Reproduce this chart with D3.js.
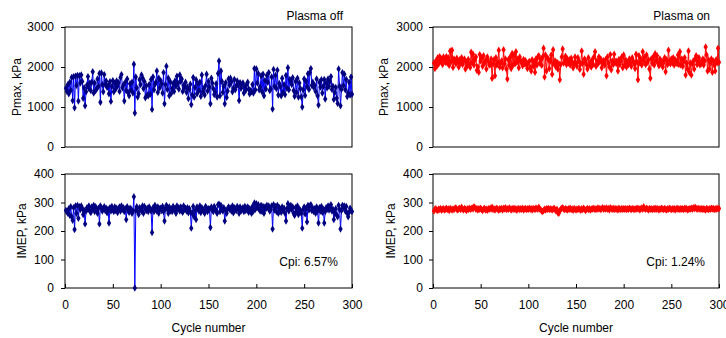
<!DOCTYPE html>
<html>
<head>
  <style>
    body, html { margin: 0; padding: 0; background: #fff; }
    svg { display: block; font-family: "Liberation Sans", Arial, sans-serif; }
  </style>
</head>
<body>
  <svg id="svg" width="726" height="338"></svg>
  <script src="https://d3js.org/d3.v7.min.js"></script>
  <script>
    const cycles = d3.range(1, 301)
    const xTicks = [0, 50, 100, 150, 200, 250, 300]
    const pmaxTicks = [0, 1000, 2000, 3000]
    const imepTicks = [0, 100, 200, 300, 400]
    const titles = ["Plasma off", "Plasma on"]
    const cpiLabels = ["Cpi: 6.57%", "Cpi: 1.24%"]

    const pmaxOff = [
      1470,1390,1560,1330,1620,1420,1740,1160,1760,980,
      1770,1540,1790,1150,1780,1600,1800,1640,1220,1480,
      1030,1380,1550,1760,1470,1600,1410,1620,1880,1350,
      1600,1410,1450,1700,1520,1840,1120,1850,1560,1380,
      1810,1560,1650,1490,1540,1330,1630,1140,1510,1660,
      1380,1590,1450,1650,1530,1610,1390,1740,1810,1480,
      1550,1150,1620,1410,1700,1360,1280,1580,1420,1620,
      1350,2070,850,1750,1480,1250,1330,1680,1560,1800,
      1730,1460,1640,1230,1530,1300,1280,1560,1320,1690,
      940,1750,1430,1560,1620,1900,1370,1720,1480,1660,
      1580,1350,1860,1080,1560,2020,1440,1720,1280,1630,
      1340,1460,1580,1390,1650,1520,1770,1600,1450,1800,
      1640,1700,1390,1540,1480,1620,1370,1500,1210,1450,
      1570,1060,1300,1740,1250,1490,1680,1330,1590,1410,
      1620,1270,1800,1380,1460,1300,1540,1820,1400,1640,
      1500,1080,1720,1600,1460,1310,1370,1580,1250,1840,
      2150,1280,1900,1640,1370,1520,1080,1610,1240,1400,
      1700,1550,1720,1630,1380,1470,1690,1430,1530,1650,
      1540,1160,1610,1470,1560,1600,1350,1500,1420,1570,
      1620,1450,1330,1410,1380,1560,1350,1960,1430,1950,
      1600,1840,1430,1500,1780,1380,1820,1280,1660,1450,
      1790,1620,1860,1410,1450,1750,950,1940,1520,1790,
      1460,1920,1300,1590,1510,1280,1720,1370,1560,1310,
      1790,1470,1980,1430,1690,1650,1560,1730,1410,1270,
      1640,1370,1720,1250,1600,1460,1250,1000,1430,1700,
      1290,1640,1510,1830,1440,1860,1960,1540,1620,1490,
      1540,1390,1700,1280,1050,1620,1500,1680,1350,1520,
      1690,1200,1600,1480,1700,1520,1640,1760,1440,1520,
      1190,1360,1490,1220,1090,1950,1520,1030,1440,1860,
      1540,1820,1430,1690,1260,1350,1620,1300,1750,1320
    ]

    const imepOff = [
      272,268,262,278,255,285,250,238,282,205,
      288,262,290,245,285,275,288,280,258,272,
      225,270,282,276,288,270,265,284,278,290,
      268,285,275,262,280,225,288,282,270,278,
      285,272,280,264,276,228,282,270,286,275,
      268,284,272,280,265,278,284,270,288,276,
      282,268,278,240,285,272,266,280,276,262,
      270,320,0,272,285,268,258,282,276,270,
      288,262,286,278,272,280,268,284,276,270,
      195,282,268,290,275,270,284,262,278,280,
      272,286,268,235,280,290,276,262,284,270,
      278,268,286,274,280,262,288,276,282,270,
      284,272,266,288,276,280,270,282,264,278,
      268,210,262,286,250,272,240,284,278,270,
      288,265,282,276,270,262,286,280,268,278,
      276,212,284,274,268,286,278,270,262,292,
      294,268,290,276,270,282,235,272,262,278,
      284,276,280,270,288,264,282,276,272,286,
      278,262,284,270,276,282,268,286,272,280,
      284,266,278,272,262,286,270,298,276,296,
      282,292,276,270,290,268,286,262,284,278,
      290,282,288,270,276,288,207,292,274,286,
      268,290,262,282,276,266,284,272,280,262,
      235,278,296,270,284,290,276,284,262,255,
      282,268,288,258,276,272,262,210,276,284,
      260,280,232,290,274,288,292,272,280,268,
      278,262,284,270,228,282,270,286,266,276,
      228,268,282,276,288,274,286,292,270,276,
      240,262,278,256,250,290,276,207,272,290,
      284,288,270,286,262,250,266,280,272,268
    ]

    const pmaxOn = [
      2100,1960,2150,2020,2230,2080,2260,2150,2200,2060,
      2250,2180,2120,2260,2100,2230,2040,2400,2130,2420,
      1990,2200,2150,2080,2220,2130,2000,2180,2100,2230,
      2060,2150,2200,1950,2120,2030,2190,2070,1990,2370,
      2100,2320,2050,2180,2250,1920,2000,1870,2310,2150,
      2230,2020,2280,2100,2160,1950,2250,2140,2050,2060,
      2200,1720,2080,2180,1780,2230,2050,2120,2420,2000,
      2100,2150,1980,2430,2080,2200,1950,1700,2180,2050,
      2250,1960,2340,2050,2300,2080,2380,2120,2200,1980,
      2250,2150,2100,2030,2190,2080,2160,2050,1960,2100,
      2140,1980,1900,2180,2020,2120,1870,2200,2050,2250,
      2280,2100,2180,2040,2250,2470,1750,2300,1900,2220,
      2200,1960,2150,2300,1820,2430,2080,2150,2000,2120,
      1950,2080,1680,2060,2250,2450,2100,2150,2270,2060,
      2200,2100,2180,2050,2220,2130,1980,2080,2250,2100,
      2020,2230,2150,1940,2080,2400,2100,1820,2200,2150,
      2060,1950,2230,2050,2120,2000,2180,2070,2260,2380,
      2020,2150,2080,2250,2130,2200,1980,2100,2160,2050,
      2180,1780,2250,2100,2000,2310,1930,2150,2060,2320,
      2100,2150,2080,1900,2190,2060,2150,2250,1980,2300,
      2050,2180,2000,2120,2060,2200,2100,2020,2230,2150,
      2080,1960,2320,2120,1680,2280,2100,2200,2050,2380,
      2150,2250,2060,2300,2120,2180,1950,1720,2200,2100,
      2250,2050,2330,2150,2280,2100,2030,2200,2080,2150,
      2000,2120,2230,1880,2180,2060,2420,2150,2080,2200,
      2100,2230,2050,2180,2150,2080,2300,2060,2380,2050,
      2200,2020,2150,2230,1800,2100,1950,2400,1860,2100,
      1800,2080,2150,1950,2200,2280,2060,2150,2230,2050,
      2120,2080,2200,2050,2150,2500,2300,1900,2180,1950,
      2100,2200,1870,2150,2050,1900,2180,2100,2470,2120
    ]

    const imepOn = [
      270,276,278,274,272,277,275,279,273,276,
      278,274,276,280,275,277,272,279,276,274,
      277,275,279,282,276,274,278,280,275,283,
      277,274,279,276,272,278,275,280,276,278,
      281,277,285,282,276,279,274,278,276,280,
      275,272,277,279,274,276,273,278,276,280,
      277,283,275,278,274,277,280,276,273,278,
      276,279,274,280,277,282,275,278,276,281,
      277,274,279,276,280,275,278,273,277,279,
      275,278,276,280,274,277,279,275,278,276,
      280,276,278,274,279,277,275,281,278,276,
      283,277,275,270,268,272,276,274,278,276,
      279,275,278,276,274,277,280,275,270,276,
      264,262,271,276,279,282,277,275,278,276,
      274,278,276,280,275,277,273,279,276,274,
      277,275,279,276,273,278,275,280,276,272,
      276,279,275,278,274,277,276,280,278,275,
      278,276,281,277,279,275,278,282,276,279,
      277,281,276,279,274,282,278,276,280,275,
      279,276,278,274,280,277,275,279,276,278,
      276,279,275,278,276,280,277,275,279,277,
      275,278,276,280,277,279,274,278,281,276,
      285,279,276,280,277,274,279,276,278,275,
      278,276,280,275,279,277,274,278,276,280,
      277,275,279,276,274,278,276,280,277,275,
      278,276,279,274,277,280,276,278,275,279,
      276,278,275,280,277,279,274,276,278,277,
      280,276,282,278,283,279,276,280,277,278,
      276,279,275,278,276,274,279,277,275,278,
      276,280,277,279,275,278,276,280,277,279
    ]

    const svg = d3.select("#svg")

    const cols = [
      { x0: 65, x1: 352, line: "#0000ff", marker: "#000080", labelX: 54 },
      { x0: 433, x1: 719, line: "#ff0000", marker: "#ff0000", labelX: 423 }
    ]
    const rows = [
      { y0: 27, y1: 147, max: 3000, ticks: pmaxTicks, label: "Pmax, kPa" },
      { y0: 174, y1: 288, max: 400, ticks: imepTicks, label: "IMEP, kPa" }
    ]
    const series = [[pmaxOff, imepOff], [pmaxOn, imepOn]]
    const ylabX = [[17, 22], [384, 391]]

    cols.forEach((c, ci) => {
      const x = d3.scaleLinear().domain([0, 300]).range([c.x0, c.x1])

      rows.forEach((r, ri) => {
        const y = d3.scaleLinear().domain([0, r.max]).range([r.y1, r.y0])
        const g = svg.append("g")
        const values = series[ci][ri]

        // plot frame
        g.append("rect")
          .attr("x", c.x0).attr("y", r.y0)
          .attr("width", c.x1 - c.x0).attr("height", r.y1 - r.y0)
          .attr("fill", "none").attr("stroke", "#000").attr("stroke-width", 1)

        // y axis
        const yAxis = d3.axisLeft(y).tickValues(r.ticks).tickFormat(d3.format("d")).tickSize(4).tickPadding(7)
        const ya = g.append("g").attr("transform", `translate(${c.x0},0)`).call(yAxis)
        ya.select(".domain").remove()
        ya.selectAll(".tick line").attr("stroke", "#000")
        ya.selectAll(".tick text")
          .attr("x", c.labelX - c.x0)
          .attr("font-size", 12).attr("fill", "#000")
          .attr("font-family", "Liberation Sans, Arial, sans-serif")

        // x axis on the lower panels
        if (ri === 1) {
          const xAxis = d3.axisBottom(x).tickValues(xTicks).tickSizeInner(-4).tickSizeOuter(0).tickPadding(12)
          const xa = g.append("g").attr("transform", `translate(0,${r.y1})`).call(xAxis)
          xa.select(".domain").remove()
          xa.selectAll(".tick line").attr("stroke", "#000")
          xa.selectAll(".tick text")
            .attr("font-size", 12).attr("fill", "#000")
            .attr("font-family", "Liberation Sans, Arial, sans-serif")

          g.append("text")
            .attr("x", (c.x0 + c.x1) / 2).attr("y", 332)
            .attr("text-anchor", "middle").attr("font-size", 12)
            .text("Cycle number")

          g.append("text")
            .attr("x", c.x1 - 14).attr("y", 266)
            .attr("text-anchor", "end").attr("font-size", 12)
            .text(cpiLabels[ci])
        } else {
          g.append("text")
            .attr("x", c.x1 - 9).attr("y", 20)
            .attr("text-anchor", "end").attr("font-size", 12)
            .text(titles[ci])
        }

        // y label
        g.append("text")
          .attr("transform", `translate(${ylabX[ci][ri]},${(r.y0 + r.y1) / 2}) rotate(-90)`)
          .attr("text-anchor", "middle").attr("dy", "0.35em").attr("font-size", 12)
          .text(r.label)

        const pts = values.map((v, i) => [cycles[i], v])

        const line = d3.line().x(d => x(d[0])).y(d => y(d[1]))
        g.append("path")
          .attr("d", line(pts))
          .attr("fill", "none").attr("stroke", c.line).attr("stroke-width", 1)

        const sym = d3.symbol().type(d3.symbolDiamond).size(16)
        g.selectAll(".pt").data(pts).join("path")
          .attr("transform", d => `translate(${x(d[0])},${y(d[1])})`)
          .attr("d", sym)
          .attr("fill", c.marker)
      })
    })
  </script>
</body>
</html>
